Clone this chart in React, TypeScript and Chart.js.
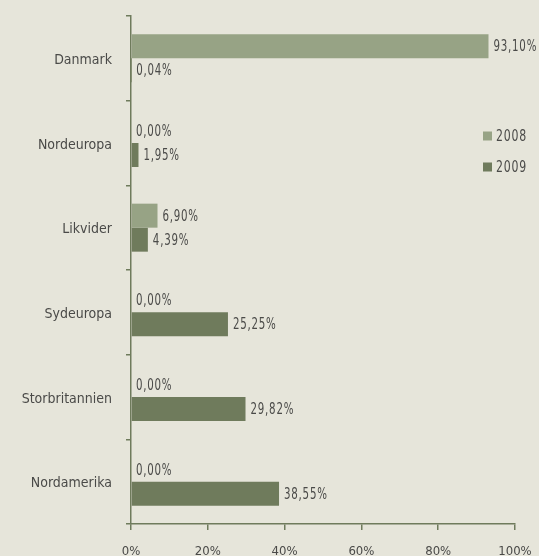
import React, { useEffect, useRef } from "react";
import { Chart, registerables } from "chart.js";

Chart.register(...registerables);

const categories = ["Danmark", "Nordeuropa", "Likvider", "Sydeuropa", "Storbritannien", "Nordamerika"];
const series2008 = [93.1, 0.0, 6.9, 0.0, 0.0, 0.0];
const series2009 = [0.04, 1.95, 4.39, 25.25, 29.82, 38.55];
const seriesLabels = ["2008", "2009"];
const xTickValues = [0, 20, 40, 60, 80, 100];

const BG = "#e6e5da";
const C2008 = "#97a385";
const C2009 = "#6f7b5c";
const AXIS = "#6f7b5c";
const TEXT = "#4a4a48";
const FONT = "'DejaVu Sans Condensed', 'DejaVu Sans', sans-serif";

const fmt = (v: number) => v.toFixed(2).replace(".", ",") + "%";

const bgPlugin = {
  id: "bg",
  beforeDraw(chart: any) {
    const ctx = chart.ctx;
    ctx.save();
    ctx.fillStyle = BG;
    ctx.fillRect(0, 0, chart.width, chart.height);
    ctx.restore();
  },
};

const SX = 0.76;

const drawNarrow = (ctx: any, text: string, x: number, y: number, size: number) => {
  ctx.save();
  ctx.font = `${size}px ${FONT}`;
  ctx.fillStyle = TEXT;
  ctx.textAlign = "left";
  ctx.textBaseline = "middle";
  try {
    ctx.letterSpacing = "1px";
  } catch (e) {}
  ctx.translate(x, y);
  ctx.scale(SX, 1);
  ctx.fillText(text, 0, 0);
  ctx.restore();
};

const labelPlugin = {
  id: "valueLabels",
  afterDatasetsDraw(chart: any) {
    const ctx = chart.ctx;
    chart.data.datasets.forEach((ds: any, i: number) => {
      const meta = chart.getDatasetMeta(i);
      meta.data.forEach((el: any, j: number) => {
        drawNarrow(ctx, fmt(ds.data[j]), el.x + 5, el.y + 1, 15);
      });
    });
  },
};

const legendPlugin = {
  id: "customLegend",
  afterDraw(chart: any) {
    const ctx = chart.ctx;
    const x = 483;
    const ys = [136, 167];
    chart.data.datasets.forEach((ds: any, i: number) => {
      ctx.save();
      ctx.fillStyle = ds.backgroundColor;
      ctx.fillRect(x, ys[i] - 4.5, 9, 9);
      ctx.restore();
      drawNarrow(ctx, ds.label, x + 13, ys[i] + 1, 16);
    });
  },
};

const zeroPad = (scale: any) => {
  scale.paddingTop = 0;
  scale.paddingBottom = 0;
  scale.paddingLeft = 0;
  scale.paddingRight = 0;
};

export default function App() {
  const ref = useRef<HTMLCanvasElement | null>(null);
  useEffect(() => {
    if (!ref.current) return;
    const chart = new Chart(ref.current, {
      type: "bar",
      data: {
        labels: categories,
        datasets: [
          { label: seriesLabels[0], data: series2008, backgroundColor: C2008, barPercentage: 1, categoryPercentage: 0.567 },
          { label: seriesLabels[1], data: series2009, backgroundColor: C2009, barPercentage: 1, categoryPercentage: 0.567 },
        ],
      },
      options: {
        indexAxis: "y",
        responsive: false,
        animation: false,
        layout: { padding: { left: 0, top: 16, right: 24, bottom: 0 } },
        plugins: { legend: { display: false }, tooltip: { enabled: false } },
        scales: {
          x: {
            min: 0,
            max: 100,
            afterBuildTicks: (scale: any) => {
              scale.ticks = xTickValues.map((v) => ({ value: v }));
            },
            afterFit: (scale: any) => {
              scale.height = 32;
              zeroPad(scale);
            },
            ticks: {
              callback: (v: any) => v + "%",
              color: TEXT,
              font: { family: FONT, size: 13 },
              padding: 14,
              maxRotation: 0,
            },
            grid: { drawOnChartArea: false, drawTicks: true, tickLength: 6, color: AXIS, lineWidth: 1.5 },
            border: { color: AXIS, width: 1.5 },
          },
          y: {
            afterFit: (scale: any) => {
              scale.width = 131;
              zeroPad(scale);
            },
            ticks: {
              color: TEXT,
              font: { family: FONT, size: 14 },
              padding: 14,
              labelOffset: 2,
            },
            grid: { offset: true, drawOnChartArea: false, drawTicks: true, tickLength: 5, color: AXIS, lineWidth: 1.5 },
            border: { color: AXIS, width: 1.5 },
          },
        },
      },
      plugins: [bgPlugin, labelPlugin, legendPlugin],
    } as any);
    return () => chart.destroy();
  }, []);
  return (
    <div style={{ position: "fixed", left: 0, top: 0, width: 539, height: 556, background: BG }}>
      <canvas ref={ref} width={539} height={556} />
    </div>
  );
}
